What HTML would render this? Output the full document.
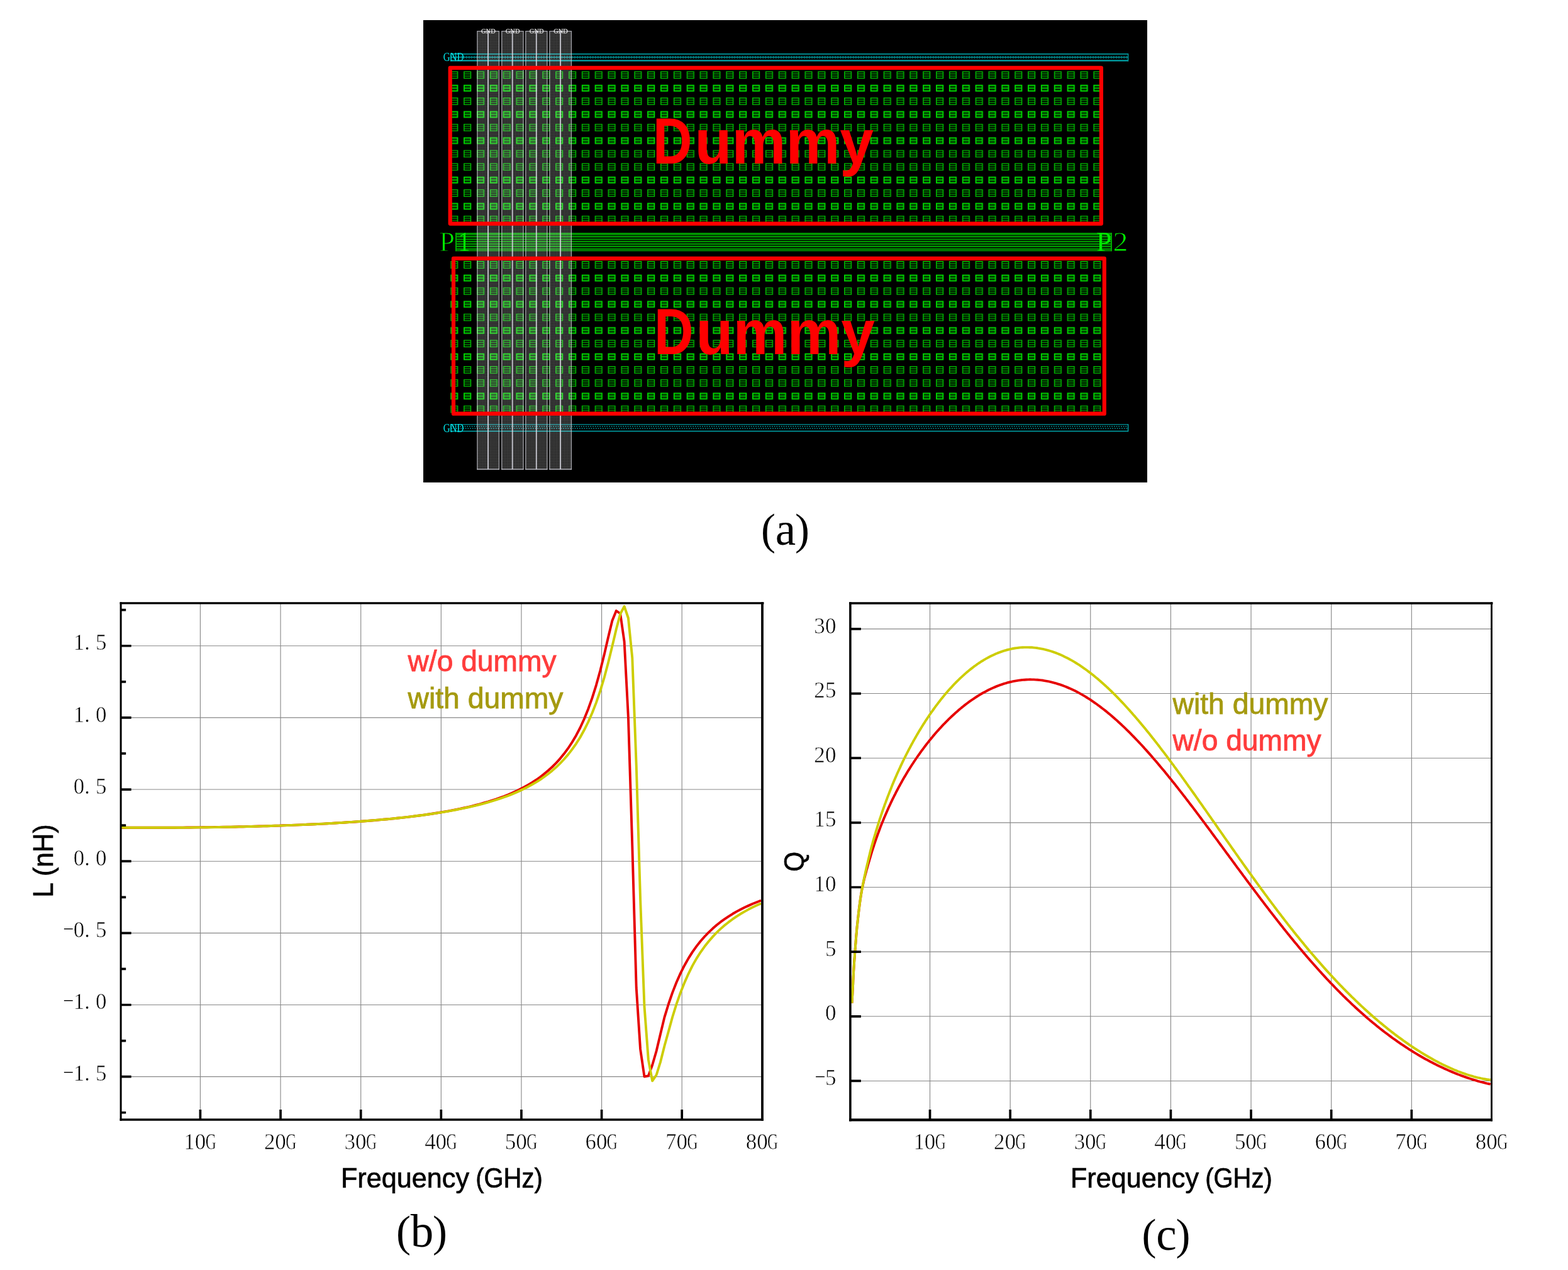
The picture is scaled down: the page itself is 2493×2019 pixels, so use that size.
<!DOCTYPE html>
<html lang="en">
<head>
<meta charset="utf-8">
<title>Dummy fill layout and simulated L / Q</title>
<style>
html,body{margin:0;padding:0;background:#fff}
body{width:2493px;height:2019px;overflow:hidden;position:relative}
svg{position:absolute;left:0;top:0;display:block}
.serif{font-family:"Liberation Serif","Noto Serif CJK SC",serif}
.sans{font-family:"Liberation Sans","Noto Sans CJK SC",sans-serif}
.tick{font-family:"Liberation Serif","Noto Serif CJK SC",serif;font-size:35px;fill:#000;stroke:#fff;stroke-width:0.55px}
.cap{font-family:"Liberation Serif","Noto Serif CJK SC",serif;font-size:73px;fill:#000;text-anchor:middle}
.axt{font-family:"Liberation Sans","Noto Sans CJK SC",sans-serif;font-size:45px;fill:#000;stroke:#000;stroke-width:0.7px;text-anchor:middle}
.leg{font-family:"Liberation Sans","Noto Sans CJK SC",sans-serif;font-size:46px;stroke-width:0.8px}
.dum{font-family:"Liberation Sans","Noto Sans CJK SC",sans-serif;font-weight:bold;font-size:98px;fill:#ff0000}
</style>
</head>
<body>
<svg width="2493" height="2019" viewBox="0 0 2493 2019">

<defs>
<pattern id="sqa" width="20.86" height="20.86" patternUnits="userSpaceOnUse" x="716.2" y="113.2">
<rect x="0.8" y="0.8" width="10.6" height="10.6" fill="none" stroke="#00be00" stroke-width="1.5"/>
<path d="M1 4.4H11.2M1 7.9H11.2" stroke="#00aa00" stroke-width="1.3" fill="none"/>
</pattern>
<pattern id="sqb" width="20.86" height="20.86" patternUnits="userSpaceOnUse" x="716.2" y="113.2">
<rect x="0.9" y="1.6" width="10.4" height="9.0" fill="#003200" stroke="#00dc00" stroke-width="1.8"/>
<path d="M1 6.1H11.2" stroke="#00c800" stroke-width="1.5" fill="none"/>
</pattern>
<pattern id="sra" width="20.86" height="20.86" patternUnits="userSpaceOnUse" x="716.2" y="415.0">
<rect x="0.8" y="0.8" width="10.6" height="10.6" fill="none" stroke="#00be00" stroke-width="1.5"/>
<path d="M1 4.4H11.2M1 7.9H11.2" stroke="#00aa00" stroke-width="1.3" fill="none"/>
</pattern>
<pattern id="srb" width="20.86" height="20.86" patternUnits="userSpaceOnUse" x="716.2" y="415.0">
<rect x="0.9" y="1.6" width="10.4" height="9.0" fill="#003200" stroke="#00dc00" stroke-width="1.8"/>
<path d="M1 6.1H11.2" stroke="#00c800" stroke-width="1.5" fill="none"/>
</pattern>

<pattern id="hatch" width="2.6" height="2.6" patternUnits="userSpaceOnUse">
<path d="M0 0.5H2.6M0.5 0V2.6" stroke="#fff" stroke-opacity="0.12" stroke-width="1" fill="none"/>
</pattern>

</defs>
<rect x="673" y="32" width="1151" height="735" fill="#000"/>
<path d="M716.5 85.8H1794M716.5 91H1794" stroke="#00969b" stroke-width="1.7" fill="none"/>
<path d="M716.5 96.4H1794" stroke="#00a5aa" stroke-width="2.2" fill="none"/>
<path d="M716.5 91H1794" stroke="#007d82" stroke-width="4.6" stroke-dasharray="1.3 2.8" fill="none"/>
<path d="M716.5 84.9V97.5M1793.6 84.9V97.5" stroke="#00969b" stroke-width="1.5" fill="none"/>
<text x="704.8" y="97.2" class="serif" font-size="18.6" fill="#00e6eb" textLength="32.5" lengthAdjust="spacingAndGlyphs">GND</text>
<path d="M716.5 674.9H1794" stroke="#009aa0" stroke-width="1.4" fill="none"/>
<path d="M716.5 685.5H1794" stroke="#00aab0" stroke-width="1.7" fill="none"/>
<path d="M716.5 677.9H1794M717.6 681.2H1794" stroke="#00a0a5" stroke-width="1.5" stroke-dasharray="1.6 2.1" fill="none"/>
<path d="M716.5 674.2V686.2M1793.6 674.2V686.2" stroke="#00a0a5" stroke-width="1.5" fill="none"/>
<text x="704.8" y="686.6" class="serif" font-size="18.6" fill="#00e6eb" textLength="32.5" lengthAdjust="spacingAndGlyphs">GND</text>
<rect x="716.2" y="113.2" width="1034.34" height="12.3" fill="url(#sqa)"/>
<rect x="716.2" y="134.06" width="1034.34" height="12.3" fill="url(#sqb)"/>
<rect x="716.2" y="154.92" width="1034.34" height="12.3" fill="url(#sqa)"/>
<rect x="716.2" y="175.78" width="1034.34" height="12.3" fill="url(#sqb)"/>
<rect x="716.2" y="196.64" width="1034.34" height="12.3" fill="url(#sqa)"/>
<rect x="716.2" y="217.5" width="1034.34" height="12.3" fill="url(#sqb)"/>
<rect x="716.2" y="238.36" width="1034.34" height="12.3" fill="url(#sqa)"/>
<rect x="716.2" y="259.22" width="1034.34" height="12.3" fill="url(#sqa)"/>
<rect x="716.2" y="280.08" width="1034.34" height="12.3" fill="url(#sqb)"/>
<rect x="716.2" y="300.94" width="1034.34" height="12.3" fill="url(#sqa)"/>
<rect x="716.2" y="321.8" width="1034.34" height="12.3" fill="url(#sqb)"/>
<rect x="716.2" y="342.66" width="1034.34" height="12.3" fill="url(#sqa)"/>
<rect x="716.2" y="415" width="1034.34" height="12.3" fill="url(#sra)"/>
<rect x="716.2" y="435.86" width="1034.34" height="12.3" fill="url(#srb)"/>
<rect x="716.2" y="456.72" width="1034.34" height="12.3" fill="url(#sra)"/>
<rect x="716.2" y="477.58" width="1034.34" height="12.3" fill="url(#srb)"/>
<rect x="716.2" y="498.44" width="1034.34" height="12.3" fill="url(#sra)"/>
<rect x="716.2" y="519.3" width="1034.34" height="12.3" fill="url(#srb)"/>
<rect x="716.2" y="540.16" width="1034.34" height="12.3" fill="url(#sra)"/>
<rect x="716.2" y="561.02" width="1034.34" height="12.3" fill="url(#srb)"/>
<rect x="716.2" y="581.88" width="1034.34" height="12.3" fill="url(#sra)"/>
<rect x="716.2" y="602.74" width="1034.34" height="12.3" fill="url(#sra)"/>
<rect x="716.2" y="623.6" width="1034.34" height="12.3" fill="url(#srb)"/>
<rect x="716.2" y="644.46" width="1034.34" height="12.3" fill="url(#sra)"/>
<rect x="724" y="370" width="1044" height="29.2" fill="#001c00"/>
<rect x="724" y="370" width="1044" height="3.7" fill="#009600"/>
<path d="M724 376.25H1768" stroke="#00aa00" stroke-width="2.2" fill="none"/>
<path d="M724 380.45H1768" stroke="#00aa00" stroke-width="1.4" fill="none"/>
<path d="M724 384.1H1768" stroke="#00aa00" stroke-width="1.8" fill="none"/>
<path d="M724 387.95H1768" stroke="#00aa00" stroke-width="1.8" fill="none"/>
<path d="M724 391.75H1768" stroke="#00aa00" stroke-width="1.9" fill="none"/>
<path d="M724 395.95H1768" stroke="#00aa00" stroke-width="1.8" fill="none"/>
<path d="M724 398.5H1768" stroke="#00aa00" stroke-width="1.4" fill="none"/>
<path d="M725 370V399.2M1767 370V399.2" stroke="#00aa00" stroke-width="2" fill="none"/>
<text y="399" class="serif" font-size="44" fill="#00eb00"><tspan x="698.6" stroke="#000" stroke-width="0.9">P</tspan><tspan x="728.6" textLength="19" lengthAdjust="spacingAndGlyphs">1</tspan></text>
<text y="399" class="serif" font-size="44" fill="#00eb00"><tspan x="1743">P</tspan><tspan x="1769.6" stroke="#000" stroke-width="0.9" textLength="24" lengthAdjust="spacingAndGlyphs">2</tspan></text>
<rect x="758.3" y="49" width="35.7" height="697.5" fill="#ffffff" fill-opacity="0.135"/>
<rect x="758.3" y="49" width="35.7" height="697.5" fill="url(#hatch)"/>
<path d="M758.9 746.4V49.6H793.4V746.4" fill="none" stroke="#d2d2dc" stroke-opacity="0.72" stroke-width="1.25"/>
<path d="M758.3 746H794" fill="none" stroke="#d2d2dc" stroke-opacity="0.8" stroke-width="1.4"/>
<path d="M776 49.6V746" fill="none" stroke="#dcdce6" stroke-opacity="0.85" stroke-width="1.9"/>
<text x="776.4" y="53.2" class="serif" font-size="10.5" fill="#fff" fill-opacity="0.85" stroke="#fff" stroke-opacity="0.35" stroke-width="0.5" text-anchor="middle">GND</text>
<rect x="797.2" y="49" width="35.4" height="697.5" fill="#ffffff" fill-opacity="0.135"/>
<rect x="797.2" y="49" width="35.4" height="697.5" fill="url(#hatch)"/>
<path d="M797.8 746.4V49.6H832V746.4" fill="none" stroke="#d2d2dc" stroke-opacity="0.72" stroke-width="1.25"/>
<path d="M797.2 746H832.6" fill="none" stroke="#d2d2dc" stroke-opacity="0.8" stroke-width="1.4"/>
<path d="M814.7 49.6V746" fill="none" stroke="#dcdce6" stroke-opacity="0.85" stroke-width="1.9"/>
<text x="815.1" y="53.2" class="serif" font-size="10.5" fill="#fff" fill-opacity="0.85" stroke="#fff" stroke-opacity="0.35" stroke-width="0.5" text-anchor="middle">GND</text>
<rect x="835.2" y="49" width="35.3" height="697.5" fill="#ffffff" fill-opacity="0.135"/>
<rect x="835.2" y="49" width="35.3" height="697.5" fill="url(#hatch)"/>
<path d="M835.8 746.4V49.6H869.9V746.4" fill="none" stroke="#d2d2dc" stroke-opacity="0.72" stroke-width="1.25"/>
<path d="M835.2 746H870.5" fill="none" stroke="#d2d2dc" stroke-opacity="0.8" stroke-width="1.4"/>
<path d="M852.8 49.6V746" fill="none" stroke="#dcdce6" stroke-opacity="0.85" stroke-width="1.9"/>
<text x="853.2" y="53.2" class="serif" font-size="10.5" fill="#fff" fill-opacity="0.85" stroke="#fff" stroke-opacity="0.35" stroke-width="0.5" text-anchor="middle">GND</text>
<rect x="873.3" y="49" width="35.7" height="697.5" fill="#ffffff" fill-opacity="0.135"/>
<rect x="873.3" y="49" width="35.7" height="697.5" fill="url(#hatch)"/>
<path d="M873.9 746.4V49.6H908.4V746.4" fill="none" stroke="#d2d2dc" stroke-opacity="0.72" stroke-width="1.25"/>
<path d="M873.3 746H909" fill="none" stroke="#d2d2dc" stroke-opacity="0.8" stroke-width="1.4"/>
<path d="M891.1 49.6V746" fill="none" stroke="#dcdce6" stroke-opacity="0.85" stroke-width="1.9"/>
<text x="891.5" y="53.2" class="serif" font-size="10.5" fill="#fff" fill-opacity="0.85" stroke="#fff" stroke-opacity="0.35" stroke-width="0.5" text-anchor="middle">GND</text>
<rect x="715.7" y="107.8" width="1035.2" height="247.8" fill="none" stroke="#ff0000" stroke-width="6.2" stroke-linejoin="round"/>
<rect x="721.0" y="410.9" width="1034.8" height="246.8" fill="none" stroke="#ff0000" stroke-width="6.2" stroke-linejoin="round"/>
<text class="dum" y="260.2"><tspan x="1038" font-size="104.5" textLength="62.5" lengthAdjust="spacingAndGlyphs">D</tspan><tspan x="1104.5" font-size="99.5" textLength="284.5" lengthAdjust="spacingAndGlyphs">ummy</tspan></text>
<text class="dum" y="563.2"><tspan x="1040" font-size="104.5" textLength="62.5" lengthAdjust="spacingAndGlyphs">D</tspan><tspan x="1106.5" font-size="99.5" textLength="284.5" lengthAdjust="spacingAndGlyphs">ummy</tspan></text>
<text class="cap" style="text-anchor:start" y="866"><tspan x="1210" font-size="69" dy="-0.6">(</tspan><tspan x="1232.8" dy="0.6">a</tspan><tspan x="1264" font-size="69" dy="-0.6">)</tspan></text>
<text class="cap" style="text-anchor:start" y="1982"><tspan x="630" font-size="69" dy="-0.6">(</tspan><tspan x="652.8" dy="0.6">b</tspan><tspan x="688" font-size="69" dy="-0.6">)</tspan></text>
<text class="cap" style="text-anchor:start" y="1986.5"><tspan x="1815.5" font-size="69" dy="-0.6">(</tspan><tspan x="1838.3" dy="0.6">c</tspan><tspan x="1869.5" font-size="69" dy="-0.6">)</tspan></text>
<path d="M318.43 958.7V1780.1M446.06 958.7V1780.1M573.69 958.7V1780.1M701.32 958.7V1780.1M828.95 958.7V1780.1M956.58 958.7V1780.1M1084.21 958.7V1780.1M192.2 1026.75H1212M192.2 1140.9H1212M192.2 1255.05H1212M192.2 1369.2H1212M192.2 1483.35H1212M192.2 1597.5H1212M192.2 1711.65H1212" stroke="#878787" stroke-width="1.12" fill="none"/>
<path d="M192.6 1315.7L194.9 1315.7L201.3 1315.7L207.6 1315.7L214 1315.8L220.4 1315.8L226.8 1315.8L233.2 1315.8L239.5 1315.8L245.9 1315.8L252.3 1315.8L258.7 1315.8L265.1 1315.7L271.5 1315.7L277.8 1315.7L284.2 1315.6L290.6 1315.6L297 1315.5L303.4 1315.5L309.7 1315.4L316.1 1315.4L322.5 1315.3L328.9 1315.2L335.3 1315.1L341.6 1315L348 1314.9L354.4 1314.8L360.8 1314.7L367.2 1314.6L373.6 1314.5L379.9 1314.3L386.3 1314.2L392.7 1314L399.1 1313.9L405.5 1313.7L411.8 1313.5L418.2 1313.4L424.6 1313.2L431 1313L437.4 1312.8L443.8 1312.6L450.1 1312.3L456.5 1312.1L462.9 1311.9L469.3 1311.6L475.7 1311.4L482 1311.1L488.4 1310.8L494.8 1310.5L501.2 1310.2L507.6 1309.9L514 1309.6L520.3 1309.2L526.7 1308.9L533.1 1308.5L539.5 1308.1L545.9 1307.7L552.2 1307.3L558.6 1306.9L565 1306.5L571.4 1306L577.8 1305.5L584.1 1305L590.5 1304.5L596.9 1304L603.3 1303.4L609.7 1302.8L616.1 1302.2L622.4 1301.6L628.8 1301L635.2 1300.3L641.6 1299.6L648 1298.9L654.3 1298.1L660.7 1297.3L667.1 1296.5L673.5 1295.6L679.9 1294.7L686.3 1293.8L692.6 1292.8L699 1291.8L705.4 1290.7L711.8 1289.6L718.2 1288.4L724.5 1287.2L730.9 1285.9L737.3 1284.5L743.7 1283.1L750.1 1281.6L756.4 1280L762.8 1278.3L769.2 1276.5L775.6 1274.7L782 1272.7L788.4 1270.6L794.7 1268.3L801.1 1266L807.5 1263.5L813.9 1260.8L820.3 1257.9L826.6 1254.8L833 1251.5L839.4 1248L845.8 1244.1L852.2 1240L858.6 1235.5L864.9 1230.6L871.3 1225.3L877.7 1219.5L884.1 1213.1L890.5 1206.1L896.8 1198.3L903.2 1189.7L909.6 1180L916 1169.2L922.4 1157L928.7 1143.2L935.1 1127.5L941.5 1109.7L947.9 1089.3L954.3 1066.3L960.7 1040.6L967 1013.2L973.4 986.8L979.8 971L986.2 975.5L992.6 1020L998.9 1140L1005.3 1345L1011.7 1570L1018.1 1668L1024.5 1711.5L1030.9 1710.3L1037.2 1693L1043.6 1671L1050 1644L1056.4 1617.4L1062.8 1596.5L1069.1 1578.1L1075.5 1561.8L1081.9 1547.4L1088.3 1534.7L1094.7 1523.4L1101 1513.4L1107.4 1504.4L1113.8 1496.3L1120.2 1489L1126.6 1482.3L1133 1476.3L1139.3 1470.8L1145.7 1465.7L1152.1 1461.1L1158.5 1456.8L1164.9 1452.8L1171.2 1449.1L1177.6 1445.7L1184 1442.5L1190.4 1439.6L1196.8 1436.8L1203.2 1434.2L1209.5 1431.7L1210 1431.5" fill="none" stroke="#e60000" stroke-width="3.9" stroke-linejoin="round"/>
<path d="M192.6 1315.6L194.9 1315.6L201.3 1315.7L207.6 1315.7L214 1315.8L220.4 1315.8L226.8 1315.8L233.2 1315.8L239.5 1315.8L245.9 1315.8L252.3 1315.8L258.7 1315.8L265.1 1315.8L271.5 1315.8L277.8 1315.8L284.2 1315.7L290.6 1315.7L297 1315.6L303.4 1315.6L309.7 1315.5L316.1 1315.4L322.5 1315.4L328.9 1315.3L335.3 1315.2L341.6 1315.1L348 1315L354.4 1314.9L360.8 1314.8L367.2 1314.7L373.6 1314.5L379.9 1314.4L386.3 1314.3L392.7 1314.1L399.1 1314L405.5 1313.8L411.8 1313.6L418.2 1313.4L424.6 1313.2L431 1313L437.4 1312.8L443.8 1312.6L450.1 1312.4L456.5 1312.1L462.9 1311.9L469.3 1311.6L475.7 1311.4L482 1311.1L488.4 1310.8L494.8 1310.5L501.2 1310.2L507.6 1309.9L514 1309.6L520.3 1309.2L526.7 1308.9L533.1 1308.5L539.5 1308.1L545.9 1307.7L552.2 1307.3L558.6 1306.9L565 1306.4L571.4 1306L577.8 1305.5L584.1 1305L590.5 1304.5L596.9 1303.9L603.3 1303.4L609.7 1302.8L616.1 1302.2L622.4 1301.6L628.8 1301L635.2 1300.3L641.6 1299.6L648 1298.9L654.3 1298.1L660.7 1297.3L667.1 1296.5L673.5 1295.7L679.9 1294.8L686.3 1293.9L692.6 1292.9L699 1291.9L705.4 1290.9L711.8 1289.8L718.2 1288.7L724.5 1287.5L730.9 1286.2L737.3 1284.9L743.7 1283.5L750.1 1282.1L756.4 1280.6L762.8 1279L769.2 1277.3L775.6 1275.5L782 1273.7L788.4 1271.7L794.7 1269.6L801.1 1267.4L807.5 1265.1L813.9 1262.6L820.3 1259.9L826.6 1257.1L833 1254.1L839.4 1250.8L845.8 1247.3L852.2 1243.6L858.6 1239.6L864.9 1235.2L871.3 1230.5L877.7 1225.4L884.1 1219.8L890.5 1213.7L896.8 1207L903.2 1199.6L909.6 1191.4L916 1182.3L922.4 1172.2L928.7 1160.8L935.1 1148L941.5 1133.5L947.9 1117.1L954.3 1098.4L960.7 1077.2L967 1053.5L973.4 1027.3L979.8 1000.3L986.2 976L992.6 964L998.9 982.5L1005.3 1046L1011.7 1216L1018.1 1430L1024.5 1600L1030.9 1685L1037.2 1718.3L1043.6 1709L1050 1688.5L1056.4 1663L1062.8 1640L1069.1 1617L1075.5 1596.4L1081.9 1578.2L1088.3 1562.1L1094.7 1547.8L1101 1535.1L1107.4 1523.9L1113.8 1513.8L1120.2 1504.8L1126.6 1496.7L1133 1489.4L1139.3 1482.7L1145.7 1476.6L1152.1 1471L1158.5 1465.9L1164.9 1461.2L1171.2 1456.8L1177.6 1452.8L1184 1449.1L1190.4 1445.6L1196.8 1442.3L1203.2 1439.3L1209.5 1436.4L1210 1436.2" fill="none" stroke="#cdcd00" stroke-width="3.9" stroke-linejoin="round"/>
<path d="M192.2 1026.75h16.5M192.2 1140.9h16.5M192.2 1255.05h16.5M192.2 1369.2h16.5M192.2 1483.35h16.5M192.2 1597.5h16.5M192.2 1711.65h16.5M192.2 969.67h8M192.2 1083.83h8M192.2 1197.97h8M192.2 1312.12h8M192.2 1426.28h8M192.2 1540.43h8M192.2 1654.58h8M192.2 1768.73h8M318.43 1780.1v-16M446.06 1780.1v-16M573.69 1780.1v-16M701.32 1780.1v-16M828.95 1780.1v-16M956.58 1780.1v-16M1084.21 1780.1v-16" stroke="#000" stroke-width="3.7" fill="none"/>
<path d="M192.1 957.15V1781.68" stroke="#000" stroke-width="3.0" fill="none"/>
<path d="M1212 957.15V1781.68" stroke="#000" stroke-width="3.8" fill="none"/>
<path d="M190.6 958.8H1214.5" stroke="#000" stroke-width="3.3" fill="none"/>
<path d="M190.6 1779.9H1213.9" stroke="#000" stroke-width="3.55" fill="none"/>
<text class="tick" x="116.7 134.3 151.9" y="1033.35">1.5</text>
<text class="tick" x="116.7 134.3 151.9" y="1147.5">1.0</text>
<text class="tick" x="116.7 134.3 151.9" y="1261.65">0.5</text>
<text class="tick" x="116.7 134.3 151.9" y="1375.8">0.0</text>
<text class="tick" y="1489.95"><tspan x="98.5" dy="-5.0" textLength="20.5" lengthAdjust="spacingAndGlyphs" style="stroke-width:1.2px">-</tspan><tspan x="116.7 134.3 151.9" dy="5.0">0.5</tspan></text>
<text class="tick" y="1604.1"><tspan x="98.5" dy="-5.0" textLength="20.5" lengthAdjust="spacingAndGlyphs" style="stroke-width:1.2px">-</tspan><tspan x="116.7 134.3 151.9" dy="5.0">1.0</tspan></text>
<text class="tick" y="1718.25"><tspan x="98.5" dy="-5.0" textLength="20.5" lengthAdjust="spacingAndGlyphs" style="stroke-width:1.2px">-</tspan><tspan x="116.7 134.3 151.9" dy="5.0">1.5</tspan></text>
<text class="tick" y="1827"><tspan x="292.33 309.73">10</tspan><tspan x="326.63" textLength="17" lengthAdjust="spacingAndGlyphs">G</tspan></text>
<text class="tick" y="1827"><tspan x="419.96 437.36">20</tspan><tspan x="454.26" textLength="17" lengthAdjust="spacingAndGlyphs">G</tspan></text>
<text class="tick" y="1827"><tspan x="547.59 564.99">30</tspan><tspan x="581.89" textLength="17" lengthAdjust="spacingAndGlyphs">G</tspan></text>
<text class="tick" y="1827"><tspan x="675.22 692.62">40</tspan><tspan x="709.52" textLength="17" lengthAdjust="spacingAndGlyphs">G</tspan></text>
<text class="tick" y="1827"><tspan x="802.85 820.25">50</tspan><tspan x="837.15" textLength="17" lengthAdjust="spacingAndGlyphs">G</tspan></text>
<text class="tick" y="1827"><tspan x="930.48 947.88">60</tspan><tspan x="964.78" textLength="17" lengthAdjust="spacingAndGlyphs">G</tspan></text>
<text class="tick" y="1827"><tspan x="1058.11 1075.51">70</tspan><tspan x="1092.41" textLength="17" lengthAdjust="spacingAndGlyphs">G</tspan></text>
<text class="tick" y="1827"><tspan x="1185.74 1203.14">80</tspan><tspan x="1220.04" textLength="17" lengthAdjust="spacingAndGlyphs">G</tspan></text>
<text class="axt" style="text-anchor:start" y="1888.2"><tspan x="542" textLength="204" lengthAdjust="spacingAndGlyphs">Frequency</tspan><tspan> </tspan><tspan x="756.2" textLength="106.5" lengthAdjust="spacingAndGlyphs">(GHz)</tspan></text>
<text class="axt" font-size="46" transform="translate(83.9 1368.6) rotate(-90)" x="0" y="0" textLength="116.5" lengthAdjust="spacingAndGlyphs">L (nH)</text>
<text class="leg" x="648.5" y="1067.4" fill="#ff3c3c" stroke="#ff3c3c" textLength="236" lengthAdjust="spacingAndGlyphs">w/o dummy</text>
<text class="leg" x="648.5" y="1126.1" fill="#a59a10" stroke="#a59a10" textLength="247" lengthAdjust="spacingAndGlyphs">with dummy</text>
<path d="M1478.53 958.7V1780.1M1606.16 958.7V1780.1M1733.79 958.7V1780.1M1861.42 958.7V1780.1M1989.05 958.7V1780.1M2116.68 958.7V1780.1M2244.31 958.7V1780.1M1352.4 999.9H2371.7M1352.4 1102.55H2371.7M1352.4 1205.2H2371.7M1352.4 1307.85H2371.7M1352.4 1410.5H2371.7M1352.4 1513.15H2371.7M1352.4 1615.8H2371.7M1352.4 1718.45H2371.7" stroke="#878787" stroke-width="1.12" fill="none"/>
<path d="M1354.5 1594.6L1354.7 1591.6L1354.8 1588.6L1355 1585.6L1355.2 1582.6L1355.4 1579.6L1355.5 1576.6L1355.7 1573.6L1355.9 1570.6L1356 1567.6L1356.2 1564.6L1356.3 1561.6L1356.4 1558.6L1356.6 1555.6L1356.7 1552.6L1356.9 1549.6L1357 1546.6L1357.2 1543.6L1357.4 1540.6L1357.6 1537.6L1357.8 1534.6L1358 1531.6L1358.2 1528.6L1358.4 1525.6L1358.7 1522.6L1358.9 1519.6L1359.1 1516.6L1359.4 1513.6L1359.6 1510.6L1359.8 1507.7L1360 1504.7L1360.2 1501.7L1360.5 1498.7L1360.7 1495.7L1360.9 1492.7L1361.2 1489.7L1361.4 1486.7L1361.7 1483.7L1362 1480.7L1362.2 1477.7L1362.5 1474.7L1362.8 1471.7L1363.2 1468.7L1363.5 1465.8L1363.8 1462.8L1364.1 1459.8L1364.5 1456.8L1364.8 1453.8L1365.1 1450.8L1365.5 1447.8L1365.8 1444.9L1366.2 1441.9L1366.6 1438.9L1367 1435.9L1367.4 1433L1367.8 1430L1368.3 1427L1368.7 1424L1369.2 1421.1L1369.7 1418.1L1370.2 1415.1L1370.8 1412.2L1371.4 1409.3L1372 1406.3L1372.7 1403.4L1373.3 1400.5L1374 1397.6L1374.8 1394.6L1375.5 1391.7L1376.3 1388.8L1377.1 1385.9L1377.8 1383L1378.7 1380.1L1379.5 1377.2L1380.3 1374.3L1381.1 1371.4L1382 1368.6L1382.8 1365.7L1383.7 1362.8L1384.5 1359.9L1385.4 1357L1386.2 1354.2L1387.1 1351.3L1388.1 1348.4L1389 1345.6L1389.9 1342.7L1390.9 1339.9L1391.8 1337L1392.8 1334.2L1393.8 1331.3L1394.8 1328.5L1395.8 1325.7L1396.9 1322.9L1397.9 1320L1399 1317.2L1400 1314.4L1401.1 1311.6L1402.2 1308.8L1403.4 1306.1L1404.5 1303.3L1405.6 1300.5L1406.8 1297.7L1408 1295L1409.2 1292.2L1410.4 1289.5L1411.6 1286.7L1412.8 1284L1414.1 1281.2L1415.4 1278.5L1416.6 1275.8L1417.9 1273.1L1419.2 1270.4L1420.6 1267.7L1421.9 1265L1423.3 1262.3L1424.6 1259.6L1426 1257L1427.4 1254.3L1428.8 1251.7L1430.3 1249L1431.7 1246.4L1433.2 1243.8L1434.6 1241.2L1436.1 1238.5L1437.6 1235.9L1439.2 1233.4L1440.7 1230.8L1442.2 1228.2L1443.8 1225.6L1445.4 1223.1L1447 1220.5L1448.6 1218L1450.2 1215.5L1451.9 1213L1453.5 1210.5L1455.2 1208L1456.9 1205.5L1458.6 1203L1460.3 1200.6L1462.1 1198.1L1463.8 1195.7L1465.6 1193.2L1467.4 1190.8L1469.2 1188.4L1471 1186L1472.8 1183.6L1474.7 1181.3L1476.5 1178.9L1478.4 1176.6L1480.3 1174.2L1482.2 1171.9L1484.1 1169.6L1486.1 1167.3L1488 1165.1L1490 1162.8L1492 1160.6L1494 1158.3L1496.1 1156.1L1498.1 1153.9L1500.2 1151.7L1502.3 1149.6L1504.4 1147.4L1506.5 1145.3L1508.6 1143.2L1510.8 1141.1L1513 1139L1515.2 1137L1517.4 1135L1519.6 1132.9L1521.9 1131L1524.1 1129L1526.4 1127.1L1528.7 1125.1L1531.1 1123.2L1533.4 1121.4L1535.8 1119.5L1538.2 1117.7L1540.6 1115.9L1543.1 1114.2L1545.5 1112.5L1548 1110.8L1550.5 1109.1L1553 1107.5L1555.6 1105.9L1558.1 1104.3L1560.7 1102.8L1563.3 1101.3L1566 1099.9L1568.6 1098.5L1571.3 1097.1L1574 1095.8L1576.7 1094.5L1579.5 1093.3L1582.2 1092.1L1585 1090.9L1587.8 1089.9L1590.6 1088.8L1593.5 1087.8L1596.3 1086.9L1599.2 1086.1L1602.1 1085.2L1605 1084.5L1607.9 1083.8L1610.9 1083.2L1613.8 1082.6L1616.8 1082.1L1619.7 1081.6L1622.7 1081.3L1625.7 1080.9L1628.7 1080.7L1631.7 1080.5L1634.7 1080.4L1637.7 1080.3L1640.7 1080.4L1643.7 1080.4L1646.7 1080.6L1649.7 1080.8L1652.7 1081.1L1655.7 1081.4L1658.7 1081.8L1661.6 1082.3L1664.6 1082.8L1667.5 1083.4L1670.5 1084.1L1673.4 1084.8L1676.3 1085.6L1679.2 1086.4L1682 1087.3L1684.9 1088.2L1687.7 1089.2L1690.6 1090.2L1693.4 1091.3L1696.2 1092.4L1698.9 1093.6L1701.7 1094.8L1704.4 1096L1707.1 1097.3L1709.8 1098.6L1712.5 1100L1715.1 1101.4L1717.8 1102.9L1720.4 1104.4L1723 1105.9L1725.6 1107.4L1728.1 1109L1730.7 1110.6L1733.2 1112.2L1735.7 1113.9L1738.2 1115.6L1740.6 1117.3L1743.1 1119L1745.5 1120.8L1747.9 1122.5L1750.3 1124.4L1752.7 1126.2L1755.1 1128L1757.5 1129.9L1759.8 1131.8L1762.1 1133.7L1764.4 1135.6L1766.7 1137.5L1769 1139.5L1771.3 1141.5L1773.5 1143.4L1775.8 1145.4L1778 1147.5L1780.2 1149.5L1782.4 1151.5L1784.6 1153.6L1786.8 1155.7L1788.9 1157.7L1791.1 1159.8L1793.2 1161.9L1795.4 1164L1797.5 1166.2L1799.6 1168.3L1801.7 1170.5L1803.8 1172.6L1805.9 1174.8L1808 1177L1810 1179.1L1812.1 1181.3L1814.1 1183.5L1816.2 1185.7L1818.2 1187.9L1820.2 1190.2L1822.2 1192.4L1824.2 1194.6L1826.2 1196.9L1828.2 1199.1L1830.2 1201.4L1832.2 1203.7L1834.1 1205.9L1836.1 1208.2L1838.1 1210.5L1840 1212.8L1841.9 1215.1L1843.9 1217.4L1845.8 1219.7L1847.7 1222L1849.7 1224.3L1851.6 1226.6L1853.5 1228.9L1855.4 1231.2L1857.3 1233.6L1859.2 1235.9L1861.1 1238.2L1862.9 1240.6L1864.8 1242.9L1866.7 1245.3L1868.6 1247.6L1870.4 1250L1872.3 1252.3L1874.1 1254.7L1876 1257.1L1877.8 1259.4L1879.7 1261.8L1881.5 1264.2L1883.4 1266.5L1885.2 1268.9L1887 1271.3L1888.9 1273.7L1890.7 1276.1L1892.5 1278.5L1894.3 1280.8L1896.2 1283.2L1898 1285.6L1899.8 1288L1901.6 1290.4L1903.4 1292.8L1905.2 1295.2L1907 1297.6L1908.8 1300L1910.6 1302.4L1912.4 1304.8L1914.2 1307.2L1916 1309.7L1917.8 1312.1L1919.6 1314.5L1921.4 1316.9L1923.2 1319.3L1925 1321.7L1926.7 1324.1L1928.5 1326.5L1930.3 1329L1932.1 1331.4L1933.9 1333.8L1935.7 1336.2L1937.4 1338.6L1939.2 1341L1941 1343.5L1942.8 1345.9L1944.6 1348.3L1946.3 1350.7L1948.1 1353.1L1949.9 1355.6L1951.7 1358L1953.5 1360.4L1955.2 1362.8L1957 1365.2L1958.8 1367.7L1960.6 1370.1L1962.4 1372.5L1964.1 1374.9L1965.9 1377.3L1967.7 1379.8L1969.5 1382.2L1971.3 1384.6L1973.1 1387L1974.9 1389.4L1976.6 1391.8L1978.4 1394.2L1980.2 1396.7L1982 1399.1L1983.8 1401.5L1985.6 1403.9L1987.4 1406.3L1989.2 1408.7L1991 1411.1L1992.8 1413.5L1994.6 1415.9L1996.4 1418.3L1998.2 1420.7L2000 1423.1L2001.8 1425.5L2003.6 1427.9L2005.4 1430.3L2007.3 1432.7L2009.1 1435.1L2010.9 1437.5L2012.7 1439.9L2014.6 1442.3L2016.4 1444.6L2018.2 1447L2020 1449.4L2021.9 1451.8L2023.7 1454.1L2025.6 1456.5L2027.4 1458.9L2029.3 1461.3L2031.1 1463.6L2033 1466L2034.8 1468.3L2036.7 1470.7L2038.6 1473L2040.4 1475.4L2042.3 1477.7L2044.2 1480.1L2046.1 1482.4L2047.9 1484.8L2049.8 1487.1L2051.7 1489.4L2053.6 1491.8L2055.5 1494.1L2057.4 1496.4L2059.3 1498.7L2061.3 1501L2063.2 1503.4L2065.1 1505.7L2067 1508L2069 1510.3L2070.9 1512.6L2072.8 1514.9L2074.8 1517.1L2076.7 1519.4L2078.7 1521.7L2080.7 1524L2082.6 1526.2L2084.6 1528.5L2086.6 1530.8L2088.6 1533L2090.6 1535.3L2092.6 1537.5L2094.6 1539.8L2096.6 1542L2098.6 1544.2L2100.6 1546.4L2102.6 1548.7L2104.7 1550.9L2106.7 1553.1L2108.7 1555.3L2110.8 1557.5L2112.9 1559.7L2114.9 1561.8L2117 1564L2119.1 1566.2L2121.2 1568.4L2123.2 1570.5L2125.3 1572.7L2127.5 1574.8L2129.6 1576.9L2131.7 1579.1L2133.8 1581.2L2135.9 1583.3L2138.1 1585.4L2140.2 1587.5L2142.4 1589.6L2144.6 1591.7L2146.7 1593.7L2148.9 1595.8L2151.1 1597.9L2153.3 1599.9L2155.5 1602L2157.7 1604L2159.9 1606L2162.2 1608L2164.4 1610L2166.7 1612L2168.9 1614L2171.2 1616L2173.4 1618L2175.7 1619.9L2178 1621.9L2180.3 1623.8L2182.6 1625.7L2184.9 1627.6L2187.3 1629.5L2189.6 1631.4L2191.9 1633.3L2194.3 1635.2L2196.6 1637L2199 1638.9L2201.4 1640.7L2203.8 1642.5L2206.2 1644.3L2208.6 1646.1L2211 1647.9L2213.4 1649.7L2215.9 1651.5L2218.3 1653.2L2220.8 1654.9L2223.2 1656.7L2225.7 1658.4L2228.2 1660.1L2230.7 1661.7L2233.2 1663.4L2235.7 1665L2238.2 1666.7L2240.7 1668.3L2243.3 1669.9L2245.8 1671.5L2248.4 1673.1L2250.9 1674.6L2253.5 1676.2L2256.1 1677.7L2258.7 1679.2L2261.3 1680.7L2263.9 1682.2L2266.5 1683.7L2269.2 1685.1L2271.8 1686.5L2274.5 1687.9L2277.1 1689.3L2279.8 1690.7L2282.5 1692.1L2285.2 1693.4L2287.9 1694.7L2290.6 1696L2293.3 1697.3L2296 1698.6L2298.7 1699.8L2301.5 1701L2304.2 1702.2L2307 1703.4L2309.8 1704.6L2312.5 1705.7L2315.3 1706.9L2318.1 1708L2320.9 1709L2323.7 1710.1L2326.6 1711.1L2329.4 1712.1L2332.2 1713.1L2335.1 1714.1L2337.9 1715L2340.8 1716L2343.7 1716.8L2346.5 1717.7L2349.4 1718.6L2352.3 1719.4L2355.2 1720.2L2358.1 1720.9L2361 1721.7L2363.9 1722.4L2366.9 1723L2369.8 1723.7" fill="none" stroke="#e60000" stroke-width="3.9" stroke-linejoin="round"/>
<path d="M1354.5 1594.6L1354.7 1591.6L1354.8 1588.6L1355 1585.6L1355.2 1582.6L1355.4 1579.6L1355.5 1576.6L1355.7 1573.6L1355.9 1570.6L1356 1567.6L1356.2 1564.6L1356.3 1561.6L1356.4 1558.6L1356.6 1555.6L1356.7 1552.6L1356.9 1549.6L1357 1546.6L1357.2 1543.6L1357.4 1540.6L1357.6 1537.6L1357.8 1534.6L1358 1531.6L1358.2 1528.6L1358.4 1525.6L1358.7 1522.6L1358.9 1519.6L1359.1 1516.6L1359.4 1513.6L1359.6 1510.6L1359.8 1507.6L1360 1504.7L1360.2 1501.7L1360.5 1498.7L1360.7 1495.7L1360.9 1492.7L1361.2 1489.7L1361.4 1486.7L1361.7 1483.7L1362 1480.7L1362.2 1477.7L1362.5 1474.7L1362.8 1471.7L1363.2 1468.7L1363.5 1465.8L1363.8 1462.8L1364.1 1459.8L1364.5 1456.8L1364.8 1453.8L1365.1 1450.8L1365.5 1447.8L1365.8 1444.9L1366.2 1441.9L1366.6 1438.9L1367 1435.9L1367.4 1432.9L1367.8 1430L1368.3 1427L1368.7 1424L1369.2 1421.1L1369.8 1418.1L1370.3 1415.2L1370.8 1412.2L1371.4 1409.2L1371.9 1406.3L1372.5 1403.4L1373.1 1400.4L1373.7 1397.5L1374.3 1394.5L1374.9 1391.6L1375.6 1388.6L1376.2 1385.7L1376.9 1382.8L1377.5 1379.8L1378.2 1376.9L1378.9 1374L1379.6 1371.1L1380.3 1368.1L1381 1365.2L1381.7 1362.3L1382.4 1359.4L1383.1 1356.5L1383.8 1353.5L1384.6 1350.6L1385.3 1347.7L1386.1 1344.8L1386.9 1341.9L1387.7 1339L1388.5 1336.1L1389.3 1333.3L1390.2 1330.4L1391 1327.5L1391.9 1324.6L1392.7 1321.7L1393.6 1318.8L1394.5 1316L1395.4 1313.1L1396.3 1310.2L1397.2 1307.4L1398.1 1304.5L1399 1301.7L1400 1298.8L1400.9 1296L1401.9 1293.1L1402.8 1290.3L1403.8 1287.4L1404.8 1284.6L1405.8 1281.8L1406.8 1278.9L1407.9 1276.1L1408.9 1273.3L1410 1270.5L1411 1267.7L1412.1 1264.9L1413.2 1262.1L1414.3 1259.3L1415.4 1256.5L1416.5 1253.7L1417.6 1250.9L1418.7 1248.1L1419.9 1245.3L1421 1242.6L1422.2 1239.8L1423.4 1237L1424.6 1234.3L1425.8 1231.5L1427 1228.8L1428.3 1226L1429.5 1223.3L1430.8 1220.6L1432 1217.9L1433.3 1215.1L1434.6 1212.4L1435.9 1209.7L1437.2 1207L1438.5 1204.3L1439.9 1201.6L1441.2 1199L1442.6 1196.3L1444 1193.6L1445.4 1190.9L1446.8 1188.3L1448.2 1185.6L1449.6 1183L1451.1 1180.4L1452.5 1177.7L1454 1175.1L1455.5 1172.5L1457 1169.9L1458.5 1167.3L1460 1164.7L1461.5 1162.1L1463.1 1159.6L1464.7 1157L1466.2 1154.5L1467.8 1151.9L1469.5 1149.4L1471.1 1146.8L1472.7 1144.3L1474.4 1141.8L1476.1 1139.3L1477.7 1136.8L1479.4 1134.4L1481.2 1131.9L1482.9 1129.5L1484.7 1127L1486.4 1124.6L1488.2 1122.2L1490 1119.8L1491.8 1117.4L1493.7 1115L1495.5 1112.6L1497.4 1110.3L1499.3 1108L1501.2 1105.6L1503.1 1103.3L1505.1 1101L1507 1098.8L1509 1096.5L1511 1094.3L1513.1 1092.1L1515.1 1089.9L1517.2 1087.7L1519.3 1085.5L1521.4 1083.4L1523.5 1081.3L1525.7 1079.2L1527.9 1077.1L1530.1 1075.1L1532.3 1073.1L1534.5 1071.1L1536.8 1069.1L1539.1 1067.2L1541.4 1065.3L1543.8 1063.4L1546.1 1061.6L1548.5 1059.7L1551 1058L1553.4 1056.2L1555.9 1054.5L1558.4 1052.9L1560.9 1051.2L1563.5 1049.7L1566.1 1048.1L1568.7 1046.6L1571.3 1045.2L1574 1043.8L1576.6 1042.5L1579.4 1041.2L1582.1 1039.9L1584.9 1038.8L1587.7 1037.6L1590.5 1036.6L1593.3 1035.6L1596.2 1034.7L1599 1033.8L1601.9 1033L1604.8 1032.3L1607.8 1031.6L1610.7 1031L1613.7 1030.5L1616.7 1030.1L1619.6 1029.7L1622.6 1029.4L1625.6 1029.2L1628.6 1029.1L1631.6 1029.1L1634.6 1029.1L1637.6 1029.2L1640.6 1029.3L1643.6 1029.6L1646.6 1029.9L1649.6 1030.3L1652.6 1030.8L1655.5 1031.3L1658.5 1031.9L1661.4 1032.6L1664.3 1033.3L1667.2 1034.1L1670.1 1035L1672.9 1035.9L1675.8 1036.9L1678.6 1037.9L1681.4 1039L1684.2 1040.1L1686.9 1041.3L1689.7 1042.6L1692.4 1043.9L1695.1 1045.2L1697.8 1046.6L1700.4 1048L1703 1049.4L1705.7 1050.9L1708.2 1052.4L1710.8 1054L1713.4 1055.6L1715.9 1057.2L1718.4 1058.9L1720.9 1060.6L1723.3 1062.3L1725.8 1064L1728.2 1065.8L1730.6 1067.6L1733 1069.4L1735.4 1071.2L1737.7 1073.1L1740.1 1075L1742.4 1076.9L1744.7 1078.8L1747 1080.8L1749.3 1082.7L1751.5 1084.7L1753.8 1086.7L1756 1088.7L1758.2 1090.7L1760.4 1092.8L1762.6 1094.8L1764.8 1096.9L1767 1099L1769.1 1101.1L1771.2 1103.2L1773.4 1105.3L1775.5 1107.5L1777.6 1109.6L1779.7 1111.8L1781.7 1114L1783.8 1116.1L1785.9 1118.3L1787.9 1120.5L1789.9 1122.7L1792 1125L1794 1127.2L1796 1129.4L1798 1131.7L1800 1133.9L1801.9 1136.2L1803.9 1138.4L1805.9 1140.7L1807.8 1143L1809.8 1145.3L1811.7 1147.6L1813.7 1149.9L1815.6 1152.2L1817.5 1154.5L1819.4 1156.8L1821.3 1159.1L1823.2 1161.5L1825.1 1163.8L1827 1166.1L1828.9 1168.5L1830.7 1170.8L1832.6 1173.2L1834.5 1175.5L1836.3 1177.9L1838.2 1180.3L1840 1182.6L1841.9 1185L1843.7 1187.4L1845.5 1189.8L1847.3 1192.2L1849.2 1194.6L1851 1196.9L1852.8 1199.3L1854.6 1201.7L1856.4 1204.1L1858.2 1206.6L1860 1209L1861.8 1211.4L1863.6 1213.8L1865.4 1216.2L1867.1 1218.6L1868.9 1221L1870.7 1223.5L1872.5 1225.9L1874.2 1228.3L1876 1230.7L1877.8 1233.2L1879.5 1235.6L1881.3 1238L1883 1240.5L1884.8 1242.9L1886.5 1245.4L1888.3 1247.8L1890 1250.3L1891.8 1252.7L1893.5 1255.1L1895.3 1257.6L1897 1260L1898.8 1262.5L1900.5 1264.9L1902.2 1267.4L1904 1269.8L1905.7 1272.3L1907.4 1274.8L1909.1 1277.2L1910.9 1279.7L1912.6 1282.1L1914.3 1284.6L1916.1 1287L1917.8 1289.5L1919.5 1292L1921.2 1294.4L1922.9 1296.9L1924.7 1299.4L1926.4 1301.8L1928.1 1304.3L1929.8 1306.7L1931.6 1309.2L1933.3 1311.7L1935 1314.1L1936.7 1316.6L1938.4 1319.1L1940.2 1321.5L1941.9 1324L1943.6 1326.4L1945.3 1328.9L1947 1331.4L1948.8 1333.8L1950.5 1336.3L1952.2 1338.7L1953.9 1341.2L1955.7 1343.7L1957.4 1346.1L1959.1 1348.6L1960.8 1351L1962.6 1353.5L1964.3 1356L1966 1358.4L1967.8 1360.9L1969.5 1363.3L1971.2 1365.8L1973 1368.2L1974.7 1370.7L1976.4 1373.1L1978.2 1375.6L1979.9 1378L1981.7 1380.5L1983.4 1382.9L1985.2 1385.4L1986.9 1387.8L1988.7 1390.2L1990.4 1392.7L1992.2 1395.1L1993.9 1397.5L1995.7 1400L1997.4 1402.4L1999.2 1404.8L2001 1407.3L2002.7 1409.7L2004.5 1412.1L2006.3 1414.6L2008.1 1417L2009.8 1419.4L2011.6 1421.8L2013.4 1424.2L2015.2 1426.6L2017 1429.1L2018.8 1431.5L2020.6 1433.9L2022.4 1436.3L2024.2 1438.7L2026 1441.1L2027.8 1443.5L2029.6 1445.9L2031.4 1448.3L2033.2 1450.7L2035.1 1453L2036.9 1455.4L2038.7 1457.8L2040.6 1460.2L2042.4 1462.6L2044.2 1464.9L2046.1 1467.3L2047.9 1469.7L2049.8 1472L2051.6 1474.4L2053.5 1476.8L2055.4 1479.1L2057.2 1481.5L2059.1 1483.8L2061 1486.2L2062.9 1488.5L2064.8 1490.8L2066.7 1493.2L2068.6 1495.5L2070.5 1497.8L2072.4 1500.1L2074.3 1502.4L2076.2 1504.8L2078.1 1507.1L2080.1 1509.4L2082 1511.7L2083.9 1514L2085.9 1516.3L2087.8 1518.5L2089.8 1520.8L2091.7 1523.1L2093.7 1525.4L2095.7 1527.6L2097.7 1529.9L2099.6 1532.1L2101.6 1534.4L2103.6 1536.6L2105.6 1538.9L2107.6 1541.1L2109.6 1543.4L2111.7 1545.6L2113.7 1547.8L2115.7 1550L2117.8 1552.2L2119.8 1554.4L2121.9 1556.6L2123.9 1558.8L2126 1561L2128 1563.2L2130.1 1565.3L2132.2 1567.5L2134.3 1569.6L2136.4 1571.8L2138.5 1573.9L2140.6 1576.1L2142.7 1578.2L2144.9 1580.3L2147 1582.4L2149.1 1584.6L2151.3 1586.7L2153.4 1588.7L2155.6 1590.8L2157.8 1592.9L2159.9 1595L2162.1 1597L2164.3 1599.1L2166.5 1601.1L2168.7 1603.2L2170.9 1605.2L2173.2 1607.2L2175.4 1609.2L2177.6 1611.2L2179.9 1613.2L2182.1 1615.2L2184.4 1617.2L2186.7 1619.2L2189 1621.1L2191.3 1623.1L2193.5 1625L2195.9 1626.9L2198.2 1628.8L2200.5 1630.7L2202.8 1632.6L2205.2 1634.5L2207.5 1636.4L2209.9 1638.2L2212.2 1640.1L2214.6 1641.9L2217 1643.8L2219.4 1645.6L2221.8 1647.4L2224.2 1649.2L2226.6 1650.9L2229.1 1652.7L2231.5 1654.5L2233.9 1656.2L2236.4 1657.9L2238.9 1659.6L2241.3 1661.3L2243.8 1663L2246.3 1664.7L2248.8 1666.4L2251.4 1668L2253.9 1669.6L2256.4 1671.2L2259 1672.8L2261.5 1674.4L2264.1 1676L2266.7 1677.5L2269.2 1679L2271.8 1680.5L2274.5 1682L2277.1 1683.5L2279.7 1685L2282.3 1686.4L2285 1687.8L2287.7 1689.2L2290.3 1690.6L2293 1691.9L2295.7 1693.2L2298.4 1694.5L2301.1 1695.8L2303.9 1697.1L2306.6 1698.3L2309.4 1699.5L2312.1 1700.7L2314.9 1701.8L2317.7 1703L2320.5 1704L2323.3 1705.1L2326.1 1706.1L2329 1707.1L2331.8 1708.1L2334.7 1709L2337.5 1709.9L2340.4 1710.7L2343.3 1711.6L2346.2 1712.3L2349.1 1713.1L2352 1713.7L2355 1714.4L2357.9 1715L2360.9 1715.5L2363.8 1716L2366.8 1716.4L2369.8 1716.8" fill="none" stroke="#cdcd00" stroke-width="3.9" stroke-linejoin="round"/>
<path d="M1352.4 999.9h16.5M1352.4 1102.55h16.5M1352.4 1205.2h16.5M1352.4 1307.85h16.5M1352.4 1410.5h16.5M1352.4 1513.15h16.5M1352.4 1615.8h16.5M1352.4 1718.45h16.5M1478.53 1780.1v-16M1606.16 1780.1v-16M1733.79 1780.1v-16M1861.42 1780.1v-16M1989.05 1780.1v-16M2116.68 1780.1v-16M2244.31 1780.1v-16" stroke="#000" stroke-width="3.7" fill="none"/>
<path d="M1351.9 957.27V1782.45" stroke="#000" stroke-width="3.55" fill="none"/>
<path d="M2371.5 957.27V1782.45" stroke="#000" stroke-width="2.8" fill="none"/>
<path d="M1350.12 959H2373.5" stroke="#000" stroke-width="3.45" fill="none"/>
<path d="M1350.12 1780.4H2372.9" stroke="#000" stroke-width="4.1" fill="none"/>
<text class="tick" x="1294.3 1311.9" y="1006.5">30</text>
<text class="tick" x="1294.3 1311.9" y="1109.15">25</text>
<text class="tick" x="1294.3 1311.9" y="1211.8">20</text>
<text class="tick" x="1294.3 1311.9" y="1314.45">15</text>
<text class="tick" x="1294.3 1311.9" y="1417.1">10</text>
<text class="tick" x="1311.9" y="1519.75">5</text>
<text class="tick" x="1311.9" y="1622.4">0</text>
<text class="tick" y="1725.05"><tspan x="1293.7" dy="-5.0" textLength="20.5" lengthAdjust="spacingAndGlyphs" style="stroke-width:1.2px">-</tspan><tspan x="1311.9" dy="5.0">5</tspan></text>
<text class="tick" y="1827"><tspan x="1452.43 1469.83">10</tspan><tspan x="1486.73" textLength="17" lengthAdjust="spacingAndGlyphs">G</tspan></text>
<text class="tick" y="1827"><tspan x="1580.06 1597.46">20</tspan><tspan x="1614.36" textLength="17" lengthAdjust="spacingAndGlyphs">G</tspan></text>
<text class="tick" y="1827"><tspan x="1707.69 1725.09">30</tspan><tspan x="1741.99" textLength="17" lengthAdjust="spacingAndGlyphs">G</tspan></text>
<text class="tick" y="1827"><tspan x="1835.32 1852.72">40</tspan><tspan x="1869.62" textLength="17" lengthAdjust="spacingAndGlyphs">G</tspan></text>
<text class="tick" y="1827"><tspan x="1962.95 1980.35">50</tspan><tspan x="1997.25" textLength="17" lengthAdjust="spacingAndGlyphs">G</tspan></text>
<text class="tick" y="1827"><tspan x="2090.58 2107.98">60</tspan><tspan x="2124.88" textLength="17" lengthAdjust="spacingAndGlyphs">G</tspan></text>
<text class="tick" y="1827"><tspan x="2218.21 2235.61">70</tspan><tspan x="2252.51" textLength="17" lengthAdjust="spacingAndGlyphs">G</tspan></text>
<text class="tick" y="1827"><tspan x="2345.84 2363.24">80</tspan><tspan x="2380.14" textLength="17" lengthAdjust="spacingAndGlyphs">G</tspan></text>
<text class="axt" style="text-anchor:start" y="1888.2"><tspan x="1702" textLength="204" lengthAdjust="spacingAndGlyphs">Frequency</tspan><tspan> </tspan><tspan x="1916.2" textLength="106.5" lengthAdjust="spacingAndGlyphs">(GHz)</tspan></text>
<text class="axt" font-size="46" transform="translate(1277.6 1369.8) rotate(-90)" x="0" y="0" textLength="32" lengthAdjust="spacingAndGlyphs">Q</text>
<text class="leg" x="1864.5" y="1135" fill="#a59a10" stroke="#a59a10" textLength="247" lengthAdjust="spacingAndGlyphs">with dummy</text>
<text class="leg" x="1864.5" y="1193.3" fill="#ff3c3c" stroke="#ff3c3c" textLength="236" lengthAdjust="spacingAndGlyphs">w/o dummy</text>
</svg>
</body>
</html>
